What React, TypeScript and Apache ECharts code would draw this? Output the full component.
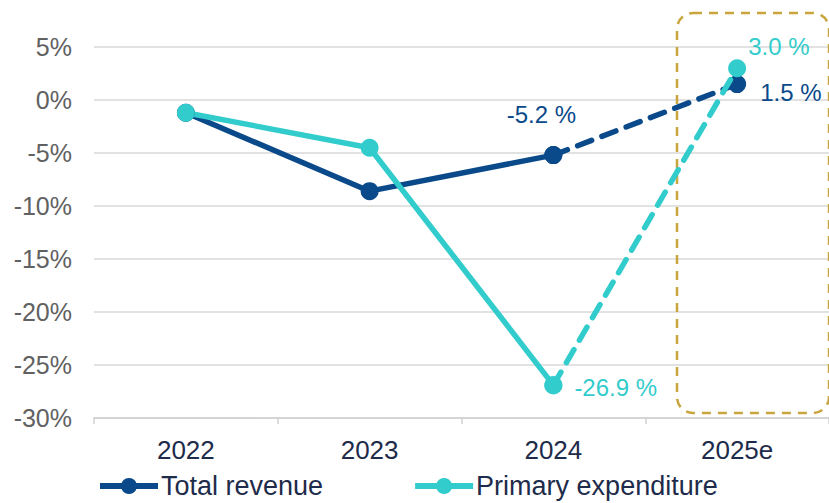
import React, { useEffect, useRef } from "react";
import * as echarts from "echarts";

const categories = ["2022", "2023", "2024", "2025e"];
const revenue = [-1.2, -8.6, -5.2, 1.5];
const expenditure = [-1.2, -4.5, -26.9, 3.0];
const yTicks = { min: -30, max: 5, interval: 5 };

const BLUE = "#0a4a8a";
const TEAL = "#33cccc";
const GOLD = "#c9a53e";
const FONT = "Liberation Sans, Arial, sans-serif";

export default function App() {
  const ref = useRef<HTMLDivElement>(null);
  useEffect(() => {
    const chart = echarts.init(ref.current!, null, { renderer: "svg" });
    const solid = (arr: number[]) => arr.map((v, i) => (i <= 2 ? v : null));
    const dashed = (arr: number[]) => arr.map((v, i) => (i >= 2 ? v : null));
    const lbl = (color: string, extra: any) => ({
      show: true,
      color,
      fontSize: 24,
      fontFamily: FONT,
      formatter: (p: any) => p.value.toFixed(1) + " %",
      ...extra,
    });
    const revSolid: any[] = solid(revenue).map((v, i) =>
      i === 2 ? { value: v, label: lbl(BLUE, { position: "top", distance: 22, offset: [-12, 2] }) } : v
    );
    const expSolid: any[] = solid(expenditure).map((v, i) =>
      i === 2 ? { value: v, label: lbl(TEAL, { position: "right", distance: 12, offset: [0, 2] }) } : v
    );
    const revDash: any[] = dashed(revenue).map((v, i) =>
      i === 3 ? { value: v, label: lbl(BLUE, { position: "right", distance: 14, offset: [0, 8] }) } : v
    );
    const expDash: any[] = dashed(expenditure).map((v, i) =>
      i === 3 ? { value: v, label: lbl(TEAL, { position: "right", distance: 2, offset: [0, -22] }) } : v
    );
    const base = (color: string) => ({
      type: "line",
      symbol: "circle",
      symbolSize: 18,
      itemStyle: { color },
      connectNulls: false,
      z: 3,
    });
    chart.setOption({
      animation: false,
      grid: { left: 94, right: 0, top: 47, bottom: 85 },
      xAxis: [
        {
          type: "category",
          data: categories,
          position: "bottom",
          axisLine: { show: false },
          axisTick: { show: false },
          axisLabel: { color: "#1e2b4a", fontSize: 26, fontFamily: FONT, margin: 19 },
        },
        {
          type: "category",
          data: categories,
          position: "bottom",
          axisLine: { show: true, onZero: true, lineStyle: { color: "#d0d0d0", width: 1.5 } },
          axisTick: { show: true, length: 6, lineStyle: { color: "#d0d0d0", width: 1.5 } },
          axisLabel: { show: false },
        },
      ],
      yAxis: {
        type: "value",
        min: yTicks.min,
        max: yTicks.max,
        interval: yTicks.interval,
        axisLabel: {
          formatter: "{value}%",
          color: "#616161",
          fontSize: 25,
          fontFamily: FONT,
          margin: 22,
        },
        axisLine: { show: false },
        axisTick: { show: false },
        splitLine: { lineStyle: { color: "#d9d9d9", width: 1.5 } },
      },
      legend: {
        left: 97,
        top: 472,
        padding: 0,
        itemWidth: 58,
        itemHeight: 20,
        itemGap: 89,
        lineStyle: { width: 6 },
        textStyle: {
          color: "#1e2b4a",
          fontSize: 27,
          fontFamily: FONT,
          lineHeight: 28,
          padding: [0, 0, 0, -2],
        },
        data: ["Total revenue", "Primary expenditure"],
      },
      graphic: [
        {
          type: "rect",
          shape: { x: 677, y: 13, width: 152, height: 400, r: 16 },
          style: { fill: "none", stroke: GOLD, lineWidth: 2.5, lineDash: [9, 7] },
          z: 1,
        },
      ],
      series: [
        {
          ...base(BLUE),
          name: "Total revenue",
          data: revSolid,
          lineStyle: { color: BLUE, width: 5.5 },
        },
        {
          ...base(TEAL),
          name: "Primary expenditure",
          data: expSolid,
          lineStyle: { color: TEAL, width: 5.5 },
        },
        {
          ...base(BLUE),
          name: "Total revenue dashed",
          data: revDash,
          lineStyle: { color: BLUE, width: 5.5, type: [15, 11], cap: "round" },
        },
        {
          ...base(TEAL),
          name: "Primary expenditure dashed",
          data: expDash,
          lineStyle: { color: TEAL, width: 5.5, type: [15, 11], cap: "round" },
          z: 4,
        },
      ],
    });
    return () => chart.dispose();
  }, []);
  return <div ref={ref} style={{ width: 829, height: 503, position: "absolute", left: 0, top: 0 }} />;
}
